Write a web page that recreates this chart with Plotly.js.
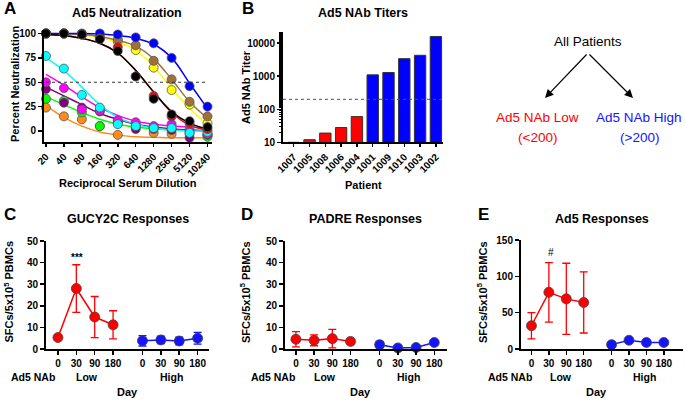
<!DOCTYPE html>
<html><head><meta charset="utf-8">
<script src="https://cdn.plot.ly/plotly-3.0.1.min.js"></script>
<style>html,body{margin:0;padding:0;background:#fff}#chart{width:685px;height:400px}</style>
</head><body><div id="chart"></div>
<script>
// ---------- Panel A: Ad5 neutralization ----------
const dilutions = ['20','40','80','160','320','640','1280','2560','5120','10240'];
const neutBlue    = [100,100,100,100, 99, 96, 90, 75, 46, 25];
const neutBrown   = [100,100, 99, 97, 94, 88, 72, 53, 30, 15];
const neutYellow  = [100,100, 99, 96, 92, 83, 65, 42, 27,  8];
const neutRed     = [100,100, 99, 95, 86, 56, 36, 15,  8,  2];
const neutBlack   = [100,100, 99, 94, 82, 56, 33, 17, 10,  4];
const neutCyan    = [ 77, 64, 37, 24,  7,  5,  3,  3, -2, -1];
const neutMagenta = [ 50, 44, 22, 21, 11,  9,  5,  7,  0, -3];
const neutPurple  = [ 43, 29, 24, 20,  9,  2,  2,  1, -7, -4];
const neutGreen   = [ 33, 31, 19,  5,  8,  7,  4,  3,  2, -6];
const neutOrange  = [ 24, 15, 12,  5, -4,  4, -2, -3, -3, -4];
const fitBlue     = [100,100,100, 99.5, 98, 95, 89, 75, 49, 23];
const fitBrown    = [100, 99.5, 99, 97, 93, 87, 74, 53, 30, 13];
const fitYellow   = [100, 99, 98, 96, 91, 83, 66, 44, 23,  7];
const fitRed      = [ 99, 98, 95, 90, 80, 62, 40, 19,  6,  1];
const fitBlack    = [ 99, 98, 95, 90, 80, 62, 40, 20,  8,  2];
const fitCyan     = [ 75, 62, 45, 27, 14,  7,  3,  1,  0,  0];
const fitMagenta  = [ 58, 47, 35, 24, 16, 10,  7,  5,  4,  3];
const fitPurple   = [ 45, 36, 27, 18, 12,  7,  4,  2,  1,  0];
const fitGreen    = [ 35, 27, 19, 12,  7,  4,  2,  1,  1,  0];
const fitOrange   = [ 26, 14,  5, -1, -4, -6, -6.5, -7, -7, -7];
const halfNeut = 50;

// ---------- Panel B: Ad5 NAb titers ----------
const patients = ['1007','1005','1008','1006','1004','1001','1009','1010','1003','1002'];
const titers   = [10, 12, 19, 28, 60, 1100, 1300, 3400, 4300, 16000];
const titerCutoff = 200;

// ---------- Panels C-E: responses ----------
const days = ['0','30','90','180'];
const gucyLow      = [5.3, 28, 14.8, 11.2];
const gucyLowErr   = [0.5, 11, 9.5, 6.5];
const gucyHigh     = [3.8, 4.2, 3.7, 5.0];
const gucyHighErr  = [2.4, 1.7, 1.8, 2.7];
const padreLow     = [4.5, 4.0, 4.8, 3.5];
const padreLowErr  = [3.5, 2.5, 4.3, 0.4];
const padreHigh    = [2.0, 0.5, 0.7, 3.0];
const padreHighErr = [1.5, 0.2, 0.3, 0.5];
const ad5Low       = [32, 78, 69, 64];
const ad5LowErr    = [18, 41, 49, 42];
const ad5High      = [6, 12, 9, 9];
const ad5HighErr   = [1, 2, 1.5, 1];

// ---------- layout helpers ----------
const W = 685, H = 400;
const fx = p => p / W;
const fy = p => 1 - p / H;
const FONT = 'Liberation Sans, Arial, sans-serif';
const RED = '#ff0000', BLUE = '#1414ff';

const axBase = {
  showline: true, linewidth: 2, linecolor: '#000', mirror: false,
  ticks: 'outside', ticklen: 4, tickwidth: 1.5, tickcolor: '#000',
  showgrid: false, zeroline: false, fixedrange: true,
  tickfont: {family: FONT, size: 10, color: '#000', weight: 700}
};
function ax(o) { return Object.assign({}, axBase, o); }

const traces = [];
const idx = dilutions.map((d, i) => i);
const seriesA = [
  ['#ff8c1a', neutOrange, fitOrange],
  ['#00ff00', neutGreen, fitGreen],
  ['#800080', neutPurple, fitPurple],
  ['#ff00ff', neutMagenta, fitMagenta],
  ['#00ffff', neutCyan, fitCyan],
  ['#ffff00', neutYellow, fitYellow],
  ['#a0703c', neutBrown, fitBrown],
  ['#0000ff', neutBlue, fitBlue],
  ['#ff0000', neutRed, fitRed],
  ['#000000', neutBlack, fitBlack]
];
seriesA.forEach(s => traces.push({
  type: 'scatter', mode: 'lines', x: idx, y: s[2], xaxis: 'x', yaxis: 'y',
  line: {color: s[0], width: 1.5, shape: 'spline', smoothing: 1.1}, hoverinfo: 'skip', cliponaxis: false
}));
seriesA.forEach(s => traces.push({
  type: 'scatter', mode: 'markers', x: idx, y: s[1], xaxis: 'x', yaxis: 'y',
  marker: {color: s[0], size: 9, line: {color: '#555', width: 0.8}}, cliponaxis: false
}));

// Panel B bars
traces.push({
  type: 'bar', x: patients, y: titers, xaxis: 'x2', yaxis: 'y2',
  marker: {color: titers.map(t => t < titerCutoff ? RED : '#0000ff'), line: {color: '#333', width: 1}}
});

// Panels C-E
const groupOffset = {low: 0, high: 4.6};
const lowX = days.map((d, i) => groupOffset.low + i);
const highX = days.map((d, i) => groupOffset.high + i);
function resp(xa, ya, yv, err, col, xs) {
  traces.push({
    type: 'scatter', mode: 'lines+markers', x: xs, y: yv, xaxis: xa, yaxis: ya,
    line: {color: col, width: 1.5},
    marker: {color: col, size: 10, line: {color: '#444', width: 0.8}},
    error_y: {type: 'data', array: err, color: col, thickness: 1.3, width: 4},
    cliponaxis: false
  });
}
resp('x3', 'y3', gucyLow, gucyLowErr, RED, lowX);
resp('x3', 'y3', gucyHigh, gucyHighErr, BLUE, highX);
resp('x4', 'y4', padreLow, padreLowErr, RED, lowX);
resp('x4', 'y4', padreHigh, padreHighErr, BLUE, highX);
resp('x5', 'y5', ad5Low, ad5LowErr, RED, lowX);
resp('x5', 'y5', ad5High, ad5HighErr, BLUE, highX);

const respTickVals = lowX.concat(highX);
const respTickText = days.concat(days);

// annotations
const ann = [];
function txt(t, x, y, o) {
  ann.push(Object.assign({
    text: t, x: fx(x), y: fy(y), xref: 'paper', yref: 'paper', showarrow: false,
    xanchor: 'center', yanchor: 'middle',
    font: {family: FONT, size: 11, color: '#000', weight: 700}
  }, o || {}));
}
const letterFont = {family: FONT, size: 17, color: '#000', weight: 700};
const titleFont = {family: FONT, size: 12.5, color: '#000', weight: 700};
txt('A', 2, 8, {xanchor: 'left', font: letterFont});
txt('B', 240, 8, {xanchor: 'left', font: letterFont});
txt('C', 2, 214, {xanchor: 'left', font: letterFont});
txt('D', 239, 214, {xanchor: 'left', font: letterFont});
txt('E', 476, 214, {xanchor: 'left', font: letterFont});
txt('Ad5 Neutralization', 127, 13, {font: titleFont});
txt('Ad5 NAb Titers', 363, 13, {font: titleFont});
txt('GUCY2C Responses', 128, 219, {font: titleFont});
txt('PADRE Responses', 365, 219, {font: titleFont});
txt('Ad5 Responses', 602, 219, {font: titleFont});
txt('Reciprocal Serum Dilution', 128, 183);
txt('Percent Neutralization', 15, 84, {textangle: -90});
txt('Patient', 363, 185);
txt('Ad5 NAb Titer', 246, 87, {textangle: -90});
const ylab = 'SFCs/5x10<sup>5</sup> PBMCs';
txt(ylab, 8.5, 292, {textangle: -90});
txt(ylab, 245, 292, {textangle: -90});
txt(ylab, 482, 292, {textangle: -90});
[[33, 87, 171, 128], [273, 325, 408, 361], [510, 561, 644, 596]].forEach(p => {
  txt('Ad5 NAb', p[0], 377, {font: {family: FONT, size: 10.5, color: '#000', weight: 700}});
  txt('Low', p[1], 377, {font: {family: FONT, size: 10.5, color: '#000', weight: 700}});
  txt('High', p[2], 377, {font: {family: FONT, size: 10.5, color: '#000', weight: 700}});
  txt('Day', p[3], 392);
});
txt('***', 77, 257, {font: {family: FONT, size: 10, color: '#000', weight: 700}});
txt('#', 551, 253, {font: {family: FONT, size: 10, color: '#000', weight: 400}});
const flowFont = c => ({family: FONT, size: 13.5, color: c, weight: 400});
txt('All Patients', 588, 42, {font: flowFont('#000')});
txt('Ad5 NAb Low', 537, 118, {font: flowFont(RED)});
txt('(<200)', 537, 137, {font: flowFont(RED)});
txt('Ad5 NAb High', 639, 118, {font: flowFont(BLUE)});
txt('(>200)', 639, 137, {font: flowFont(BLUE)});
ann.push({text: '', x: fx(545), y: fy(98), xref: 'paper', yref: 'paper', showarrow: true,
  ax: 43, ay: -45, arrowhead: 2, arrowsize: 1.4, arrowwidth: 1.2, arrowcolor: '#000'});
ann.push({text: '', x: fx(633), y: fy(98), xref: 'paper', yref: 'paper', showarrow: true,
  ax: -45, ay: -45, arrowhead: 2, arrowsize: 1.4, arrowwidth: 1.2, arrowcolor: '#000'});

const layout = {
  width: W, height: H, margin: {l: 0, r: 0, t: 0, b: 0},
  paper_bgcolor: '#fff', plot_bgcolor: 'rgba(0,0,0,0)', showlegend: false,
  font: {family: FONT, color: '#000'},
  bargap: 0.28,
  xaxis: ax({domain: [fx(44), fx(212)], range: [-0.11, 9.25], tickvals: idx, ticktext: dilutions,
    tickangle: -45, anchor: 'y', ticklen: 3}),
  yaxis: ax({domain: [fy(142), fy(30)], range: [-11.3, 103.6], tickvals: [0, 25, 50, 75, 100], anchor: 'x'}),
  xaxis2: ax({domain: [fx(283), fx(443)], type: 'category', range: [-0.68, 9.45], tickangle: -45,
    anchor: 'y2', ticklen: 3}),
  yaxis2: ax({domain: [fy(142.3), fy(32.3)], type: 'log', range: [1, 4.33],
    tickvals: [10, 100, 1000, 10000], ticktext: ['10', '100', '1000', '10000'], anchor: 'x2',
    minor: {ticks: 'outside', ticklen: 2, tickwidth: 1, tickcolor: '#000', showgrid: false}}),
  xaxis3: ax({domain: [fx(46), fx(209)], range: [-0.65, 8.22], tickvals: respTickVals, ticktext: respTickText, anchor: 'y3'}),
  yaxis3: ax({domain: [fy(349), fy(241)], range: [0, 50], dtick: 10, anchor: 'x3'}),
  xaxis4: ax({domain: [fx(285), fx(447)], range: [-0.6, 8.3], tickvals: respTickVals, ticktext: respTickText, anchor: 'y4'}),
  yaxis4: ax({domain: [fy(349), fy(241)], range: [0, 50], dtick: 10, anchor: 'x4'}),
  xaxis5: ax({domain: [fx(521), fx(683)], range: [-0.6, 8.7], tickvals: respTickVals, ticktext: respTickText, anchor: 'y5'}),
  yaxis5: ax({domain: [fy(349), fy(240)], range: [0, 150], dtick: 50, anchor: 'x5'}),
  shapes: [
    {type: 'line', xref: 'x', yref: 'y', x0: 0, x1: dilutions.length - 1, y0: halfNeut, y1: halfNeut,
      line: {color: '#333', width: 1, dash: 'dot'}},
    {type: 'line', xref: 'x2 domain', yref: 'y2', x0: 0, x1: 1, y0: titerCutoff, y1: titerCutoff,
      line: {color: '#555', width: 1, dash: 'dot'}}
  ],
  annotations: ann
};

Plotly.newPlot('chart', traces, layout, {staticPlot: true, displayModeBar: false});
</script>
</body></html>
